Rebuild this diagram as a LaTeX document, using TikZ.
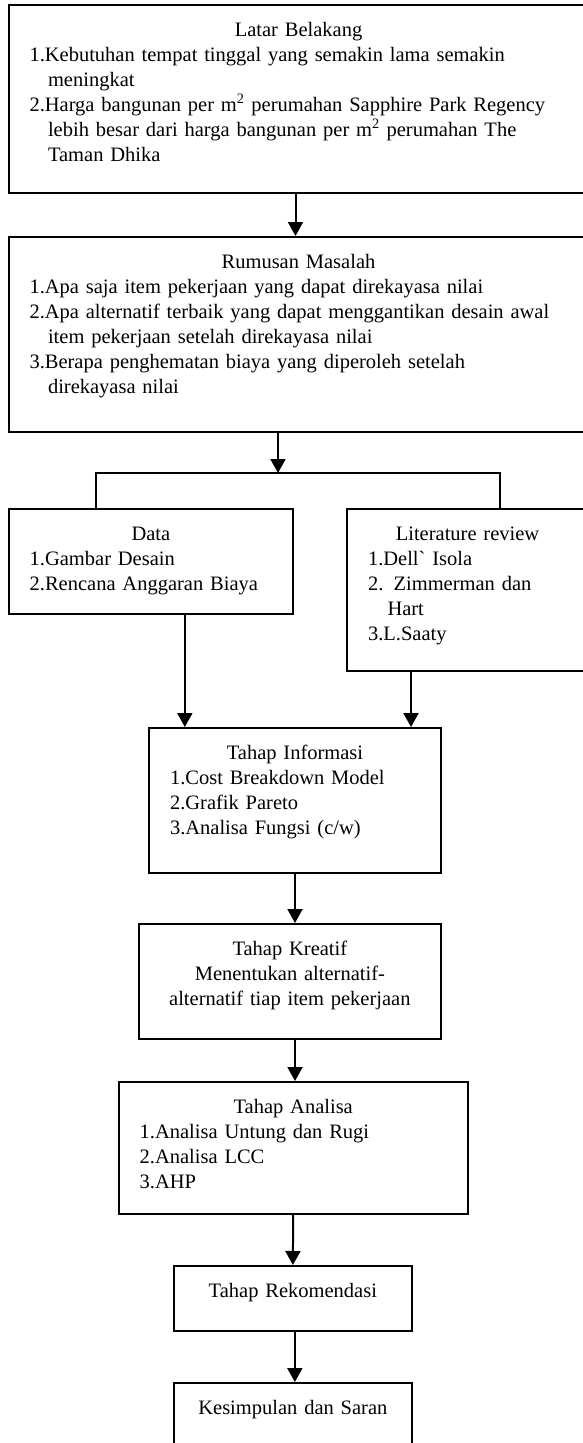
\documentclass[tikz,border=0pt]{standalone}
\usepackage{fontspec}
\setmainfont{Liberation Serif}
\usetikzlibrary{arrows.meta}

\begin{document}
\begin{tikzpicture}[x=1pt, y=-1pt, line width=2pt,
        kotak/.style={draw, rectangle, anchor=north west, inner sep=0pt},
        isi/.style={anchor=north, inner sep=0pt, font=\fontsize{20.5}{25}\selectfont},
        panah/.style={-{Triangle[length=14pt,width=15pt]}}]
    \clip (0,0) rectangle (583,1443);

    % kotak-kotak
    \node (latar) at (7.5,4) [kotak, minimum width=580pt, minimum height=188pt] {};
    \node (rumusan) at (7.5,236) [kotak, minimum width=580pt, minimum height=195pt] {};
    \node (data) at (7.7,508) [kotak, minimum width=284.3pt, minimum height=105pt] {};
    \node (lit) at (346,508) [kotak, minimum width=241pt, minimum height=162pt] {};
    \node (info) at (148,727) [kotak, minimum width=292pt, minimum height=145pt] {};
    \node (kreatif) at (137.7,923) [kotak, minimum width=302.3pt, minimum height=115pt] {};
    \node (analisa) at (117.7,1081) [kotak, minimum width=349pt, minimum height=132pt] {};
    \node (rekom) at (173,1265) [kotak, minimum width=237.7pt, minimum height=65pt] {};
    \node (simpul) at (173,1382) [kotak, minimum width=237.7pt, minimum height=90pt] {};

    % isi kotak
    \node (latar-isi) at ([yshift=-15pt]latar.north) [isi, text width=538pt] {\rule{0pt}{16pt}%
        \centering Latar Belakang\par\raggedright
        1.Kebutuhan tempat tinggal yang semakin lama semakin\\
        \hspace*{18.5pt}meningkat\\
        2.Harga bangunan per m\textsuperscript{2} perumahan Sapphire Park Regency\\
        \hspace*{18.5pt}lebih besar dari harga bangunan per m\textsuperscript{2} perumahan The\\
        \hspace*{18.5pt}Taman Dhika};
    \node (rumusan-isi) at ([yshift=-15pt]rumusan.north) [isi, text width=538pt] {\rule{0pt}{16pt}%
        \centering Rumusan Masalah\par\raggedright
        1.Apa saja item pekerjaan yang dapat direkayasa nilai\\
        2.Apa alternatif terbaik yang dapat menggantikan desain awal\\
        \hspace*{18.5pt}item pekerjaan setelah direkayasa nilai\\
        3.Berapa penghematan biaya yang diperoleh setelah\\
        \hspace*{18.5pt}direkayasa nilai};
    \node (data-isi) at ([yshift=-15pt]data.north) [isi, text width=242.3pt] {\rule{0pt}{16pt}%
        \centering Data\par\raggedright
        1.Gambar Desain\\
        2.Rencana Anggaran Biaya};
    \node (lit-isi) at ([yshift=-15pt]lit.north) [isi, text width=199pt] {\rule{0pt}{16pt}%
        \centering Literature review\par\raggedright
        1.Dell\textasciigrave{} Isola\\
        2. Zimmerman dan\\
        \hspace*{19.5pt}Hart\\
        3.L.Saaty};
    \node (info-isi) at ([yshift=-15pt]info.north) [isi, text width=250pt] {\rule{0pt}{16pt}%
        \centering Tahap Informasi\par\raggedright
        1.Cost Breakdown Model\\
        2.Grafik Pareto\\
        3.Analisa Fungsi (c/w)};
    \node (kreatif-isi) at ([yshift=-15pt]kreatif.north) [isi, text width=260.3pt] {\rule{0pt}{16pt}%
        \centering Tahap Kreatif\\
        Menentukan alternatif-\\
        alternatif tiap item pekerjaan\par};
    \node (analisa-isi) at ([yshift=-15pt]analisa.north) [isi, text width=307pt] {\rule{0pt}{16pt}%
        \centering Tahap Analisa\par\raggedright
        1.Analisa Untung dan Rugi\\
        2.Analisa LCC\\
        3.AHP};
    \node (rekom-isi) at ([yshift=-15pt]rekom.north) [isi, text width=195.7pt] {\rule{0pt}{16pt}%
        \centering Tahap Rekomendasi\par};
    \node (simpul-isi) at ([yshift=-15pt]simpul.north) [isi, text width=195.7pt] {\rule{0pt}{16pt}%
        \centering Kesimpulan dan Saran\par};

    % panah
    \coordinate (cabang) at (278,473);
    \coordinate (cabang-kiri) at (96,473);
    \coordinate (cabang-kanan) at (500,473);
    \coordinate (data-bawah) at ([xshift=34pt]data.south);
    \coordinate (lit-bawah) at ([xshift=-56.5pt]lit.south);

    \draw[panah] ([xshift=-3pt]latar.south) -- ([xshift=-3pt]rumusan.north);
    \draw[panah] (rumusan.south -| cabang) -- (cabang);
    \draw (data.north -| cabang-kiri) -- (cabang-kiri) -- (cabang-kanan) -- (lit.north -| cabang-kanan);
    \draw[panah] (data-bawah) -- (data-bawah |- info.north);
    \draw[panah] (lit-bawah) -- (lit-bawah |- info.north);
    \draw[panah] (info.south) -- (info.south |- kreatif.north);
    \draw[panah] (kreatif.south -| info.south) -- (analisa.north -| info.south);
    \draw[panah] (analisa.south) -- (rekom.north);
    \draw[panah] ([xshift=2pt]rekom.south) -- ([xshift=2pt]simpul.north);
\end{tikzpicture}
\end{document}
